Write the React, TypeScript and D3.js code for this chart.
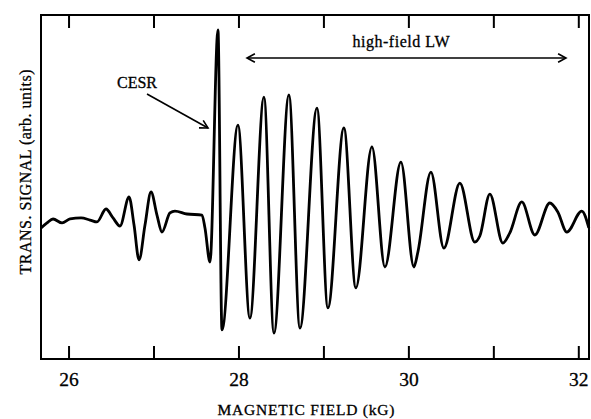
import React from "react";
import * as d3 from "d3";

// Transmission signal vs. magnetic field (kG), arbitrary units
const fieldKG: number[] = [
  25.671, 25.741, 25.812, 25.918, 26.012, 26.141, 26.247, 26.329, 26.435, 26.518,
  26.6, 26.706, 26.765, 26.824, 26.894, 26.965, 27.035, 27.094, 27.188, 27.247,
  27.388, 27.565, 27.6, 27.659, 27.753, 27.8, 27.988, 28.129, 28.294, 28.412,
  28.588, 28.718, 28.918, 29.047, 29.235, 29.376, 29.565, 29.718, 29.906, 30.059,
  30.106, 30.259, 30.412, 30.6, 30.776, 30.835, 30.953, 31.106, 31.188, 31.329,
  31.482, 31.659, 31.753, 31.859, 32.035, 32.118,
];
const signal: number[] = [
  -0.38, -0.09, 0.14, -0.09, 0.14, 0.2, 0.08, -0.03, 0.72, 0.2,
  -0.27, 1.42, -0.21, -2.24, -0.21, 1.71, 0.37, -0.62, 0.49, 0.6,
  0.43, 0.37, -0.38, -2.36, 11.13, -6.31, 5.6, -5.62, 7.23, -6.49,
  7.35, -6.2, 6.59, -5.03, 5.43, -3.87, 4.33, -2.65, 3.45, -2.65,
  -1.78, 2.87, -1.55, 2.23, -1.2, -0.85, 1.59, -1.26, -0.67, 1.13,
  -0.79, 1.07, 0.55, -0.62, 0.6, -0.38,
];

const tickValues: number[] = [26, 27, 28, 29, 30, 31, 32];
const tickLabels: number[] = [26, 28, 30, 32];

const W = 591;
const H = 419;
const left = 41;
const right = 589;
const top = 15;
const bottom = 359;
const FONT = "'Liberation Serif', 'DejaVu Serif', serif";

export default function App() {
  const x = d3.scaleLinear().domain([25.67, 32.12]).range([left, right]);
  const y = d3.scaleLinear().domain([-8, 12]).range([bottom, top]);

  const pts: [number, number][] = fieldKG.map((f, i) => [f, signal[i]]);
  const path = d3
    .line<[number, number]>()
    .x((d) => x(d[0]))
    .y((d) => y(d[1]))
    .curve(d3.curveMonotoneX)(pts) as string;

  const tickLen = 13;

  // open arrowhead at (tx, ty) pointing along direction from (fx, fy)
  const head = (fx: number, fy: number, tx: number, ty: number, len = 9, spread = 0.5) => {
    const a = Math.atan2(ty - fy, tx - fx);
    const p1 = [tx - len * Math.cos(a - spread), ty - len * Math.sin(a - spread)];
    const p2 = [tx - len * Math.cos(a + spread), ty - len * Math.sin(a + spread)];
    return `M${p1[0]},${p1[1]}L${tx},${ty}L${p2[0]},${p2[1]}`;
  };

  const lwY = 58;
  const lwX1 = 247;
  const lwX2 = 566;

  return (
    <svg
      width={W}
      height={H}
      style={{ position: "absolute", left: 0, top: 0, background: "#fff" }}
    >
      <rect x={0} y={0} width={W} height={H} fill="#fff" />
      {/* frame */}
      <rect
        x={left}
        y={top}
        width={right - left}
        height={bottom - top}
        fill="none"
        stroke="#000"
        strokeWidth={2}
      />
      {/* inward ticks on top and bottom */}
      {tickValues.map((t) => (
        <g key={t}>
          <line x1={x(t)} x2={x(t)} y1={top} y2={top + tickLen} stroke="#000" strokeWidth={2} />
          <line x1={x(t)} x2={x(t)} y1={bottom} y2={bottom - tickLen} stroke="#000" strokeWidth={2} />
        </g>
      ))}
      {tickLabels.map((t) => (
        <text
          key={t}
          x={x(t)}
          y={386}
          textAnchor="middle"
          fontFamily={FONT}
          fontSize={19.5}
          fill="#000"
          stroke="#000"
          strokeWidth={0.3}
        >
          {t}
        </text>
      ))}
      {/* signal trace */}
      <path d={path} fill="none" stroke="#000" strokeWidth={2.8} strokeLinejoin="round" />

      {/* annotations */}
      <text x={117} y={88} fontFamily={FONT} fontSize={16} fill="#000" stroke="#000" strokeWidth={0.3}>
        CESR
      </text>
      <line x1={147} y1={94} x2={208} y2={128} stroke="#000" strokeWidth={1.6} />
      <path d={head(147, 94, 208, 128)} fill="none" stroke="#000" strokeWidth={1.6} />

      <text
        x={401}
        y={47}
        textAnchor="middle"
        fontFamily={FONT}
        fontSize={16}
        textLength={97}
        lengthAdjust="spacing"
        fill="#000"
        stroke="#000"
        strokeWidth={0.3}
      >
        high-field LW
      </text>
      <line x1={lwX1} y1={lwY} x2={lwX2} y2={lwY} stroke="#000" strokeWidth={1.6} />
      <path d={head(lwX2, lwY, lwX1, lwY)} fill="none" stroke="#000" strokeWidth={1.6} />
      <path d={head(lwX1, lwY, lwX2, lwY)} fill="none" stroke="#000" strokeWidth={1.6} />

      {/* axis titles */}
      <text
        x={306}
        y={415}
        textAnchor="middle"
        fontFamily={FONT}
        fontSize={15.5}
        textLength={177}
        lengthAdjust="spacing"
        fill="#000"
        stroke="#000"
        strokeWidth={0.3}
      >
        MAGNETIC FIELD (kG)
      </text>
      <text
        transform="translate(31,172) rotate(-90)"
        textAnchor="middle"
        fontFamily={FONT}
        fontSize={16}
        textLength={205}
        lengthAdjust="spacing"
        fill="#000"
        stroke="#000"
        strokeWidth={0.3}
      >
        TRANS. SIGNAL (arb. units)
      </text>
    </svg>
  );
}
